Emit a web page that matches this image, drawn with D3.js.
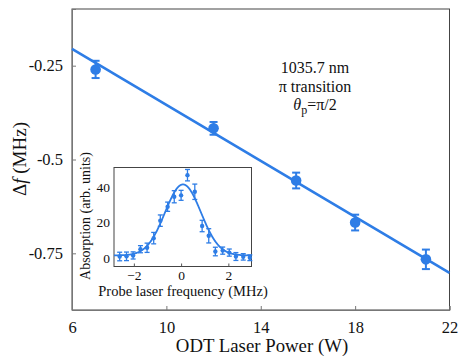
<!DOCTYPE html>
<html>
<head>
<meta charset="utf-8">
<script src="https://cdn.jsdelivr.net/npm/d3@7"></script>
<style>
  body { margin: 0; background: #fff; }
  svg text { font-family: 'Liberation Serif', 'Times New Roman', Times, 'DejaVu Serif', serif !important; fill: #111; }
</style>
</head>
<body>
<div id="chart"></div>
<script>
const BLUE = '#2e7de6';

// main panel: frequency shift vs ODT power
const power = [7, 12, 15.5, 18, 21];
const shift = [-0.26, -0.417, -0.556, -0.668, -0.766];
const shiftErr = [0.023, 0.017, 0.021, 0.021, 0.026];
const fitSlope = -0.0373;
const fitIntercept = 0.0183;
const xTicks = [6, 10, 14, 18, 22];
const yTicks = [-0.25, -0.5, -0.75];

// inset: absorption spectrum
const probeFreq = [-2.6, -2.31, -2.03, -1.72, -1.44, -1.16, -0.88, -0.57, -0.29, 0.0,
                   0.27, 0.58, 0.89, 1.17, 1.45, 1.76, 2.04, 2.32, 2.63, 2.91];
const absorption = [0.9, 1.0, 1.5, 5.0, 5.8, 11.2, 21, 28.8, 34.4, 35.2,
                    46.5, 37.2, 18, 12.5, 3.7, 4.2, 3.1, 0.9, 0.7, 0.2];
const absErr = [2.4, 2.4, 2.0, 2.0, 2.6, 3.2, 3.2, 2.6, 3.4, 2.8,
                3.2, 4.3, 3.2, 4.0, 2.4, 2.0, 2.0, 2.2, 1.8, 1.6];
const gauss = { amp: 39.8, center: 0.08, sigma: 0.76, base: 1.5 };
const insetXTicks = [-2, 0, 2];
const insetYTicks = [0, 20, 40];

const W = 471, H = 358;
const svg = d3.select('#chart').append('svg').attr('width', W).attr('height', H);

const x = d3.scaleLinear().domain([6, 22]).range([72, 449.5]);
const y = d3.scaleLinear().domain([-0.901, -0.099]).range([310, 9]);

const styleTicks = size => g => g.selectAll('text')
  .attr('font-family', null).style('font-size', size).attr('fill', '#111');

// frame
svg.append('rect').attr('x', 72).attr('y', 9).attr('width', 377.5).attr('height', 301)
  .attr('fill', 'none').attr('stroke', '#444').attr('stroke-width', 1);

svg.append('g').attr('transform', 'translate(0,310)')
  .call(d3.axisBottom(x).tickValues(xTicks).tickSize(-4).tickPadding(11).tickFormat(d3.format('d')))
  .attr('font-family', null)
  .call(g => g.select('.domain').attr('stroke', '#777'))
  .call(g => g.selectAll('line').attr('stroke', '#777'))
  .call(styleTicks('16.5px'));

svg.append('g').attr('transform', 'translate(72,0)')
  .call(d3.axisLeft(y).tickValues(yTicks).tickSize(-4).tickPadding(9).tickFormat(d => String(d)))
  .attr('font-family', null)
  .call(g => g.select('.domain').attr('stroke', '#777'))
  .call(g => g.selectAll('line').attr('stroke', '#777'))
  .call(styleTicks('16.5px'));

// fit line
svg.append('line')
  .attr('x1', x(6)).attr('y1', y(fitIntercept + fitSlope * 6))
  .attr('x2', x(22)).attr('y2', y(fitIntercept + fitSlope * 22))
  .attr('stroke', BLUE).attr('stroke-width', 2.6);

// error bars + points
const pts = svg.append('g').attr('stroke', BLUE).attr('stroke-width', 2);
power.forEach((p, i) => {
  const cx = x(p);
  const top = y(shift[i] + shiftErr[i]), bot = y(shift[i] - shiftErr[i]);
  pts.append('line').attr('x1', cx).attr('x2', cx).attr('y1', top).attr('y2', bot);
  pts.append('line').attr('x1', cx - 4).attr('x2', cx + 4).attr('y1', top).attr('y2', top);
  pts.append('line').attr('x1', cx - 4).attr('x2', cx + 4).attr('y1', bot).attr('y2', bot);
  pts.append('circle').attr('cx', cx).attr('cy', y(shift[i])).attr('r', 5.3).attr('fill', BLUE).attr('stroke', 'none');
});

// annotation
const note = svg.append('text').attr('x', 315).attr('text-anchor', 'middle').style('font-size', '16px');
note.append('tspan').attr('x', 315).attr('y', 73).text('1035.7 nm');
note.append('tspan').attr('x', 315).attr('y', 92).text('π transition');
const n3 = note.append('tspan').attr('x', 315).attr('y', 110);
n3.append('tspan').style('font-style', 'italic').text('θ');
n3.append('tspan').attr('dy', 4).style('font-size', '12px').text('p');
n3.append('tspan').attr('dy', -4).text('=π/2');

// axis titles
const yl = svg.append('text').attr('transform', 'translate(26,159) rotate(-90)')
  .attr('text-anchor', 'middle').style('font-size', '19px');
yl.append('tspan').text('Δ');
yl.append('tspan').style('font-style', 'italic').text('f');
yl.append('tspan').text(' (MHz)');

svg.append('text').attr('x', 262).attr('y', 352).attr('text-anchor', 'middle')
  .style('font-size', '18.8px').text('ODT Laser Power (W)');

// inset
const ix = d3.scaleLinear().domain([-2.84, 2.98]).range([114, 251.5]);
const iy = d3.scaleLinear().domain([-4.7, 50.8]).range([266.5, 167.5]);

svg.append('rect').attr('x', 114).attr('y', 167.5).attr('width', 137.5).attr('height', 99)
  .attr('fill', '#fff').attr('stroke', '#444').attr('stroke-width', 1);

svg.append('g').attr('transform', 'translate(0,266.5)')
  .call(d3.axisBottom(ix).tickValues(insetXTicks).tickSize(-3).tickPadding(4).tickFormat(d3.format('d')))
  .attr('font-family', null)
  .call(g => g.select('.domain').remove())
  .call(g => g.selectAll('line').attr('stroke', '#555'))
  .call(styleTicks('13.5px'));

svg.append('g').attr('transform', 'translate(114,0)')
  .call(d3.axisLeft(iy).tickValues(insetYTicks).tickSize(0).tickPadding(4).tickFormat(d3.format('d')))
  .attr('font-family', null)
  .call(g => g.select('.domain').remove())
  .call(styleTicks('13.5px'));

const curveX = d3.range(ix.domain()[0], ix.domain()[1] + 0.001, 0.02);
svg.append('path')
  .datum(curveX)
  .attr('fill', 'none').attr('stroke', BLUE).attr('stroke-width', 1.8)
  .attr('d', d3.line()
    .x(d => ix(d))
    .y(d => iy(gauss.base + gauss.amp * Math.exp(-((d - gauss.center) ** 2) / (2 * gauss.sigma ** 2)))));

const ipts = svg.append('g').attr('stroke', BLUE).attr('stroke-width', 1.3);
probeFreq.forEach((f, i) => {
  const cx = ix(f);
  const top = iy(absorption[i] + absErr[i]), bot = iy(absorption[i] - absErr[i]);
  ipts.append('line').attr('x1', cx).attr('x2', cx).attr('y1', top).attr('y2', bot);
  ipts.append('line').attr('x1', cx - 2.5).attr('x2', cx + 2.5).attr('y1', top).attr('y2', top);
  ipts.append('line').attr('x1', cx - 2.5).attr('x2', cx + 2.5).attr('y1', bot).attr('y2', bot);
  ipts.append('circle').attr('cx', cx).attr('cy', iy(absorption[i])).attr('r', 2.2).attr('fill', BLUE).attr('stroke', 'none');
});

svg.append('text').attr('transform', 'translate(90,216) rotate(-90)')
  .attr('text-anchor', 'middle').style('font-size', '14px').text('Absorption (arb. units)');

svg.append('text').attr('x', 183).attr('y', 296).attr('text-anchor', 'middle')
  .style('font-size', '14.5px').text('Probe laser frequency (MHz)');
</script>
</body>
</html>
